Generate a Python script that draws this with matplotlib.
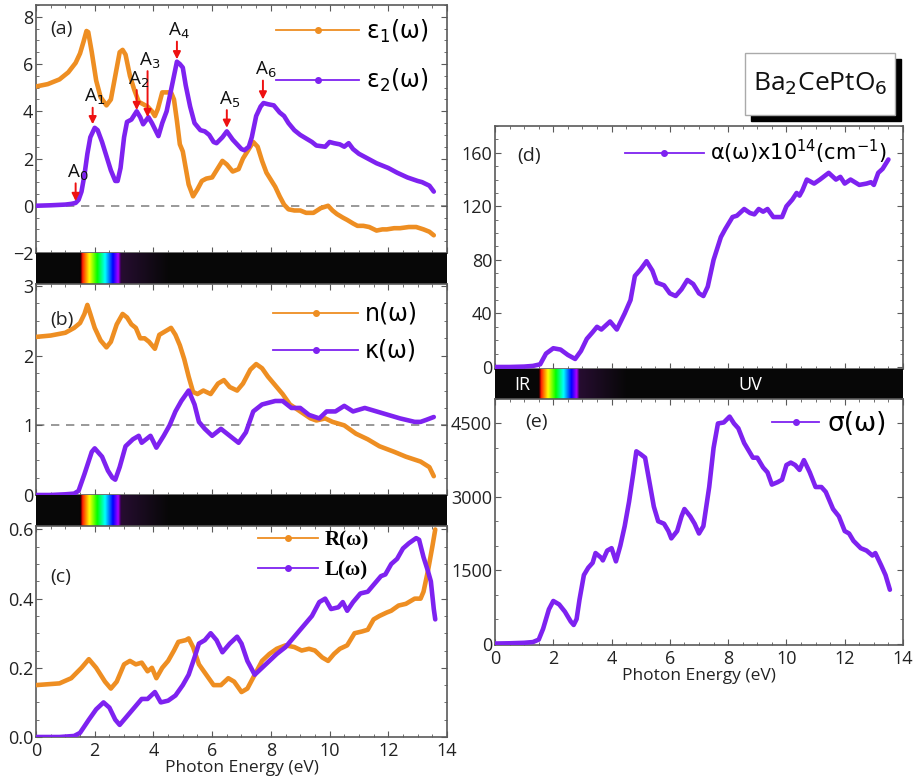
import numpy as np
import matplotlib
matplotlib.use('Agg')
import matplotlib.pyplot as plt
from matplotlib.lines import Line2D
from matplotlib.patches import Rectangle
import colorsys

# ---------------- data ----------------
E_eps1 = [0, 0.4, 0.8, 1.1, 1.35, 1.5, 1.62, 1.72, 1.78, 1.9, 2.05, 2.2, 2.4, 2.55, 2.7, 2.85, 2.95, 3.05, 3.2,
          3.35, 3.5, 3.65, 3.8, 3.95, 4.05, 4.15, 4.3, 4.45, 4.6, 4.7, 4.8, 4.9, 5.0, 5.1, 5.2, 5.35, 5.5, 5.65,
          5.8, 6.0, 6.2, 6.35, 6.5, 6.7, 6.9, 7.05, 7.2, 7.4, 7.55, 7.7, 7.85, 8.0, 8.15, 8.3, 8.45, 8.6, 8.8,
          9.0, 9.2, 9.45, 9.7, 9.95, 10.1, 10.25, 10.45, 10.6, 10.8, 10.95, 11.15, 11.35, 11.6, 11.8, 11.95,
          12.2, 12.4, 12.7, 12.95, 13.2, 13.4, 13.55]
eps1 = [5.05, 5.15, 5.35, 5.65, 6.05, 6.45, 6.95, 7.4, 7.35, 6.5, 5.3, 4.6, 4.25, 4.5, 5.5, 6.5, 6.6, 6.4, 5.5,
        4.9, 4.4, 4.3, 4.2, 4.0, 3.8, 4.1, 4.8, 4.8, 4.8, 4.5, 3.6, 2.6, 2.3, 1.6, 0.9, 0.4, 0.7, 1.05,
        1.15, 1.2, 1.6, 1.9, 1.75, 1.45, 1.55, 2.0, 2.3, 2.7, 2.5, 1.9, 1.4, 1.1, 0.8, 0.4, 0.05, -0.15, -0.2,
        -0.2, -0.3, -0.3, -0.1, 0.0, -0.2, -0.35, -0.5, -0.6, -0.75, -0.85, -0.85, -0.9, -1.05, -1.0, -1.0,
        -0.95, -0.95, -0.9, -0.9, -1.0, -1.1, -1.25]

E_eps2 = [0, 0.5, 1.0, 1.2, 1.35, 1.45, 1.55, 1.65, 1.75, 1.85, 2.0, 2.1, 2.25, 2.4, 2.55, 2.7, 2.78, 2.88, 3.0,
          3.1, 3.25, 3.43, 3.55, 3.65, 3.83, 3.95, 4.05, 4.17, 4.3, 4.45, 4.6, 4.8, 4.9, 5.0, 5.1, 5.25, 5.4,
          5.6, 5.75, 5.9, 6.05, 6.15, 6.35, 6.5, 6.7, 6.85, 7.0, 7.1, 7.25, 7.35, 7.5, 7.65, 7.75, 7.9, 8.1,
          8.3, 8.45, 8.6, 8.8, 9.0, 9.2, 9.4, 9.55, 9.85, 10.0, 10.15, 10.35, 10.5, 10.65, 10.8, 11.0, 11.3,
          11.6, 11.8, 12.0, 12.3, 12.65, 13.0, 13.15, 13.4, 13.55]
eps2 = [0, 0.02, 0.05, 0.08, 0.12, 0.25, 0.6, 1.3, 2.2, 2.9, 3.3, 3.2, 2.7, 2.1, 1.5, 1.05, 1.05, 1.6, 2.9,
        3.55, 3.65, 4.0, 3.75, 3.45, 3.75, 3.5, 3.25, 2.95, 3.5, 4.0, 4.9, 6.1, 6.0, 5.85, 5.1, 4.2, 3.5,
        3.2, 3.15, 3.0, 2.7, 2.65, 2.9, 3.15, 2.8, 2.6, 2.4, 2.35, 2.5, 2.9, 3.8, 4.2, 4.35, 4.3, 4.25,
        3.95, 3.8, 3.5, 3.2, 3.0, 2.85, 2.7, 2.55, 2.5, 2.7, 2.65, 2.6, 2.5, 2.65, 2.4, 2.2, 2.0,
        1.8, 1.7, 1.6, 1.4, 1.2, 1.05, 1.0, 0.85, 0.6]

E_n = [0, 0.5, 1.0, 1.3, 1.5, 1.65, 1.75, 1.85, 2.0, 2.2, 2.4, 2.55, 2.75, 2.95, 3.1, 3.25, 3.4, 3.55, 3.7, 3.85,
       4.05, 4.2, 4.4, 4.6, 4.75, 4.9, 5.05, 5.2, 5.35, 5.5, 5.7, 5.95, 6.2, 6.4, 6.6, 6.85, 7.05, 7.3, 7.5,
       7.7, 7.9, 8.1, 8.4, 8.65, 9.0, 9.35, 9.55, 9.85, 10.1, 10.5, 10.9, 11.3, 11.7, 12.2, 12.6, 13.1, 13.4,
       13.55]
n_vals = [2.27, 2.29, 2.33, 2.4, 2.47, 2.6, 2.73, 2.6, 2.4, 2.22, 2.12, 2.2, 2.45, 2.6, 2.55, 2.45, 2.4, 2.25,
          2.25, 2.2, 2.1, 2.3, 2.35, 2.4, 2.3, 2.15, 1.95, 1.7, 1.48, 1.45, 1.5, 1.45, 1.6, 1.65, 1.55, 1.5,
          1.6, 1.8, 1.88, 1.82, 1.7, 1.6, 1.45, 1.3, 1.2, 1.1, 1.07, 1.1, 1.05, 1.0, 0.88, 0.8, 0.7, 0.62,
          0.55, 0.48, 0.4, 0.27]

E_k = [0, 0.5, 1.0, 1.3, 1.45, 1.65, 1.9, 2.0, 2.25, 2.45, 2.6, 2.7, 2.85, 3.05, 3.3, 3.5, 3.6, 3.9, 4.1, 4.35,
       4.55, 4.75, 4.95, 5.2, 5.4, 5.55, 5.75, 6.0, 6.3, 6.6, 6.9, 7.15, 7.4, 7.7, 8.15, 8.4, 8.7, 9.0, 9.3,
       9.65, 9.9, 10.2, 10.5, 10.8, 11.2, 11.6, 12.0, 12.4, 12.9, 13.1, 13.3, 13.55]
k_vals = [0, 0.0, 0.01, 0.02, 0.06, 0.3, 0.62, 0.67, 0.55, 0.35, 0.25, 0.22, 0.4, 0.7, 0.8, 0.85, 0.75, 0.85,
          0.68, 0.85, 1.0, 1.2, 1.35, 1.5, 1.3, 1.05, 0.95, 0.85, 0.95, 0.85, 0.75, 0.9, 1.2, 1.3, 1.35, 1.35,
          1.25, 1.25, 1.15, 1.1, 1.2, 1.2, 1.28, 1.2, 1.25, 1.2, 1.15, 1.1, 1.05, 1.05, 1.08, 1.12]

E_R = [0, 0.8, 1.2, 1.55, 1.8, 2.05, 2.35, 2.55, 2.75, 3.0, 3.2, 3.4, 3.6, 3.8, 3.95, 4.1, 4.3, 4.5, 4.7, 4.85,
       5.1, 5.2, 5.35, 5.55, 5.8, 6.05, 6.3, 6.55, 6.75, 7.0, 7.2, 7.45, 7.7, 7.95, 8.2, 8.5, 8.8, 9.05, 9.3,
       9.5, 9.75, 9.95, 10.15, 10.35, 10.6, 10.85, 11.1, 11.3, 11.5, 11.7, 11.95, 12.1, 12.35, 12.6, 12.9,
       13.1, 13.2, 13.35, 13.5, 13.6]
R_vals = [0.15, 0.155, 0.17, 0.2, 0.225, 0.2, 0.16, 0.14, 0.16, 0.21, 0.22, 0.21, 0.215, 0.19, 0.2, 0.17, 0.2,
          0.22, 0.25, 0.275, 0.28, 0.285, 0.26, 0.21, 0.18, 0.15, 0.15, 0.17, 0.16, 0.13, 0.14, 0.18, 0.22,
          0.24, 0.255, 0.265, 0.26, 0.25, 0.255, 0.25, 0.23, 0.22, 0.24, 0.255, 0.265, 0.3, 0.305, 0.31, 0.34,
          0.35, 0.36, 0.365, 0.38, 0.385, 0.4, 0.4, 0.42, 0.48, 0.55, 0.6]

E_L = [0, 0.8, 1.3, 1.5, 1.8, 2.05, 2.3, 2.5, 2.7, 2.85, 3.1, 3.35, 3.6, 3.8, 4.05, 4.25, 4.5, 4.75, 5.0, 5.2,
       5.4, 5.55, 5.75, 5.95, 6.15, 6.35, 6.6, 6.85, 7.0, 7.2, 7.45, 7.7, 7.95, 8.2, 8.5, 8.8, 9.1, 9.4, 9.65,
       9.85, 10.05, 10.3, 10.45, 10.6, 10.8, 11.05, 11.3, 11.5, 11.75, 11.9, 12.1, 12.3, 12.5, 12.7, 12.95,
       13.05, 13.2, 13.35, 13.45, 13.55, 13.6]
L_vals = [0, 0.0, 0.003, 0.012, 0.05, 0.08, 0.1, 0.085, 0.05, 0.035, 0.06, 0.085, 0.11, 0.11, 0.13, 0.1, 0.105,
          0.12, 0.15, 0.18, 0.23, 0.27, 0.28, 0.3, 0.28, 0.245, 0.27, 0.29, 0.27, 0.22, 0.18, 0.2, 0.22, 0.24,
          0.26, 0.29, 0.32, 0.35, 0.39, 0.4, 0.37, 0.375, 0.39, 0.365, 0.39, 0.415, 0.42, 0.44, 0.465, 0.47,
          0.5, 0.515, 0.545, 0.56, 0.575, 0.57, 0.52, 0.48, 0.45, 0.37, 0.34]

E_alpha = [0, 0.5, 1.0, 1.3, 1.55, 1.75, 2.0, 2.25, 2.5, 2.75, 2.95, 3.15, 3.35, 3.5, 3.65, 3.95, 4.18, 4.45,
           4.65, 4.8, 5.0, 5.2, 5.4, 5.55, 5.8, 6.0, 6.2, 6.4, 6.6, 6.8, 7.0, 7.15, 7.3, 7.5, 7.75, 7.9, 8.15,
           8.3, 8.55, 8.75, 8.9, 9.05, 9.2, 9.35, 9.55, 9.85, 10.0, 10.2, 10.35, 10.45, 10.55, 10.7, 10.95,
           11.15, 11.45, 11.7, 11.85, 12.0, 12.2, 12.5, 12.75, 12.9, 13.0, 13.15, 13.3, 13.5]
alpha = [0, 0, 0.3, 0.8, 2, 10, 14, 13, 9, 6, 12, 21, 26, 30, 28, 34, 28, 40,
         50, 68, 73, 79, 72, 63, 61, 55, 53, 58, 65, 62, 55, 53, 60, 80, 97, 103, 112,
         113, 118, 115, 114, 118, 116, 118, 112, 112, 120, 125, 130, 128, 132, 140, 137,
         140, 145, 140, 142, 137, 140, 136, 137, 138, 136, 145, 148, 155]

E_sigma = [0, 0.5, 1.0, 1.3, 1.5, 1.65, 1.85, 2.0, 2.2, 2.4, 2.6, 2.7, 2.8, 2.9, 3.05, 3.2, 3.35, 3.45, 3.65,
           3.7, 3.85, 4.0, 4.15, 4.3, 4.45, 4.6, 4.75, 4.85, 5.0, 5.15, 5.3, 5.45, 5.6, 5.8, 5.95, 6.05, 6.25,
           6.4, 6.5, 6.7, 6.85, 7.0, 7.15, 7.35, 7.5, 7.65, 7.85, 8.05, 8.2, 8.35, 8.55, 8.7, 8.85, 9.0, 9.2,
           9.35, 9.5, 9.7, 9.85, 10.0, 10.15, 10.3, 10.45, 10.6, 10.8, 11.0, 11.2, 11.35, 11.6, 11.8, 12.0,
           12.15, 12.3, 12.55, 12.75, 12.95, 13.05, 13.25, 13.4, 13.55]
sigma = [0, 5, 15, 30, 80, 300, 700, 870, 800, 650, 450, 380, 500, 900, 1400, 1550, 1650, 1850, 1750,
         1700, 1900, 1950, 1680, 2000, 2400, 2900, 3500, 3930, 3870, 3800, 3300, 2800, 2500, 2450, 2300,
         2150, 2300, 2600, 2750, 2600, 2450, 2250, 2400, 3200, 4000, 4500, 4520, 4640, 4500, 4400, 4100,
         3950, 3800, 3800, 3600, 3500, 3250, 3300, 3350, 3650, 3700, 3650, 3550, 3750, 3500, 3200, 3200,
         3100, 2750, 2600, 2300, 2250, 2100, 1950, 1900, 1800, 1850, 1600, 1400, 1100]

peak_names = ['A$_0$', 'A$_1$', 'A$_2$', 'A$_3$', 'A$_4$', 'A$_5$', 'A$_6$']
peak_E = [1.35, 1.93, 3.43, 3.8, 4.8, 6.5, 7.73]
peak_tip = [0.2, 3.45, 4.05, 3.75, 6.2, 3.3, 4.5]
peak_tail = [0.95, 4.15, 4.9, 5.7, 6.95, 4.05, 5.3]

# ---------------- style ----------------
ORANGE = '#EE8E22'
PURPLE = '#7E22F0'
plt.rcParams['font.family'] = ['Open Sans', 'DejaVu Sans']
plt.rcParams['mathtext.fontset'] = 'dejavusans'
TICK_FS = 13
SPINE = '#5a5a5a'

fig = plt.figure(figsize=(9.14, 7.78), dpi=100)


def fx(px):
    return px / 914.0


def fy(py):
    return 1 - py / 778.0


def make_ax(x0, x1, y0, y1):
    return fig.add_axes([fx(x0), fy(y1), fx(x1) - fx(x0), fy(y0) - fy(y1)])


def style(ax, ymaj, ymin, ylim, xlabels=False):
    ax.set_xlim(0, 14)
    ax.set_ylim(*ylim)
    ax.xaxis.set_major_locator(plt.MultipleLocator(2))
    ax.xaxis.set_minor_locator(plt.MultipleLocator(0.5))
    ax.yaxis.set_major_locator(plt.MultipleLocator(ymaj))
    ax.yaxis.set_minor_locator(plt.MultipleLocator(ymin))
    ax.tick_params(which='both', direction='in', top=True, right=True, color=SPINE,
                   labelsize=TICK_FS, labelcolor='#222222', pad=2)
    ax.tick_params(axis='x', pad=3.5)
    ax.tick_params(which='major', length=4)
    ax.tick_params(which='minor', length=2.5)
    if not xlabels:
        ax.tick_params(axis='x', labelbottom=False)
    for s in ax.spines.values():
        s.set_color(SPINE)
        s.set_linewidth(1.2)


def curve(ax, x, y, c):
    ax.plot(x, y, color=c, lw=3.3, solid_joinstyle='round', solid_capstyle='round', zorder=3)


def legend(ax, labels, colors, anchor, fs, spacing, hl, **kw):
    handles = [Line2D([], [], color=c, lw=1.3, marker='o', ms=4) for c in colors]
    ax.legend(handles, labels, loc='upper right', bbox_to_anchor=anchor, frameon=False,
              handlelength=hl, labelspacing=spacing, handletextpad=0.3, borderaxespad=0,
              borderpad=0, prop=dict(size=fs, **kw))


def spectrum_bar(ax, labels=False):
    E = np.linspace(0, 14, 1401)
    cols = np.zeros((1, E.size, 3))
    for i, e in enumerate(E):
        if 1.5 <= e <= 2.9:
            t = (e - 1.55) / 1.25
            t = min(max(t, 0), 1)
            h = 0.0 + 0.78 * t
            v = min(1.0, (e - 1.5) / 0.08)
            if e > 2.8:
                v *= max(0.25, 1 - (e - 2.8) / 0.12)
            r, g, b = colorsys.hsv_to_rgb(h, 1.0, v)
            cols[0, i] = (r, g, b)
        elif 2.9 < e <= 4.5:
            f = 1 - (e - 2.9) / 1.6
            cols[0, i] = (0.03 + 0.12 * f, 0.03 + 0.02 * f, 0.03 + 0.16 * f)
        else:
            cols[0, i] = (0.03, 0.03, 0.03)
    ax.imshow(cols, extent=[0, 14, 0, 1], aspect='auto', interpolation='bilinear')
    ax.set_xlim(0, 14)
    ax.set_ylim(0, 1)
    ax.set_xticks([])
    ax.set_yticks([])
    for s in ax.spines.values():
        s.set_visible(False)
    if labels:
        ax.text(0.95, 0.45, 'IR', color='white', fontsize=13, ha='center', va='center')
        ax.text(8.75, 0.45, 'UV', color='white', fontsize=13, ha='center', va='center')


# ---------------- left column ----------------
LX0, LX1 = 36, 447
ax_a = make_ax(LX0, LX1, 5, 253)
bar1 = make_ax(LX0, LX1, 253, 284)
ax_b = make_ax(LX0, LX1, 284, 495)
bar2 = make_ax(LX0, LX1, 495, 526)
ax_c = make_ax(LX0, LX1, 526, 737)

# (a)
ax_a.axhline(0, color='#888888', lw=1.2, ls=(0, (5, 4)), zorder=1)
curve(ax_a, E_eps1, eps1, ORANGE)
curve(ax_a, E_eps2, eps2, PURPLE)
style(ax_a, 2, 0.5, (-2, 8.5))
for nm, e, tip, tail in zip(peak_names, peak_E, peak_tip, peak_tail):
    ax_a.annotate('', xy=(e, tip), xytext=(e, tail),
                  arrowprops=dict(arrowstyle='-|>', color='#ee1111', lw=1.4, mutation_scale=11,
                                  shrinkA=0, shrinkB=0), zorder=5)
    ax_a.text(e + 0.08, tail + 0.02, nm, fontsize=13.5, ha='center', va='bottom', color='#111111', zorder=6)
ax_a.text(0.035, 0.94, '(a)', transform=ax_a.transAxes, fontsize=14, va='top', ha='left', color='#222222')
legend(ax_a, ['ε$_1$(ω)', 'ε$_2$(ω)'], [ORANGE, PURPLE], (0.955, 0.95), 17, 0.95, 3.5,
       family=['DejaVu Sans'])

# (b)
ax_b.axhline(1, color='#888888', lw=1.2, ls=(0, (5, 4)), zorder=1)
curve(ax_b, E_n, n_vals, ORANGE)
curve(ax_b, E_k, k_vals, PURPLE)
style(ax_b, 1, 0.25, (0, 3.03))
ax_b.text(0.035, 0.87, '(b)', transform=ax_b.transAxes, fontsize=14, va='top', ha='left', color='#222222')
legend(ax_b, ['n(ω)', 'κ(ω)'], [ORANGE, PURPLE], (0.93, 0.915), 17, 0.55, 3.6, family=['DejaVu Sans'])

# (c)
curve(ax_c, E_R, R_vals, ORANGE)
curve(ax_c, E_L, L_vals, PURPLE)
style(ax_c, 0.2, 0.05, (0, 0.61), xlabels=True)
ax_c.set_xlabel('Photon Energy (eV)', fontsize=12.5, labelpad=0, color='#222222')
ax_c.text(0.035, 0.8, '(c)', transform=ax_c.transAxes, fontsize=14, va='top', ha='left', color='#222222')
legend(ax_c, ['R(ω)', 'L(ω)'], [ORANGE, PURPLE], (0.81, 0.98), 15, 0.5, 2.9,
       family=['Liberation Serif', 'DejaVu Serif'], weight='bold')
ax_c.set_yticks([0, 0.2, 0.4, 0.6])
ax_c.set_yticklabels(['0.0', '0.2', '0.4', '0.6'])

spectrum_bar(bar1)
spectrum_bar(bar2)

# ---------------- right column ----------------
RX0, RX1 = 495, 903
ax_d = make_ax(RX0, RX1, 126, 369)
bar3 = make_ax(RX0, RX1, 369, 399)
ax_e = make_ax(RX0, RX1, 399, 645)

curve(ax_d, E_alpha, alpha, PURPLE)
style(ax_d, 40, 10, (-1.5, 180))
ax_d.text(0.055, 0.915, '(d)', transform=ax_d.transAxes, fontsize=14, va='top', ha='left', color='#222222')
legend(ax_d, ['α(ω)x10$^{14}$(cm$^{-1}$)'], [PURPLE], (0.96, 0.95), 15, 0.5, 3.8, family=['DejaVu Sans'])

curve(ax_e, E_sigma, sigma, PURPLE)
style(ax_e, 1500, 500, (-30, 5000), xlabels=True)
ax_e.set_xlabel('Photon Energy (eV)', fontsize=12.5, labelpad=0, color='#222222')
ax_e.text(0.075, 0.945, '(e)', transform=ax_e.transAxes, fontsize=14, va='top', ha='left', color='#222222')
legend(ax_e, ['σ(ω)'], [PURPLE], (0.96, 0.95), 19, 0.5, 1.8, family=['DejaVu Sans'])

spectrum_bar(bar3, labels=True)

# ---------------- compound label box ----------------
fig.patches.append(Rectangle((fx(751), fy(121)), fx(150), fy(59) - fy(121), transform=fig.transFigure,
                             facecolor='black', edgecolor='black', zorder=1))
fig.patches.append(Rectangle((fx(745), fy(115)), fx(150), fy(53) - fy(115), transform=fig.transFigure,
                             facecolor='white', edgecolor='#aaaaaa', lw=1.0, zorder=2))
fig.text(fx(820), fy(84), 'Ba$_2$CePtO$_6$', fontsize=19, ha='center', va='center', color='#111111', zorder=3)

fig.savefig('out.png', dpi=100)
